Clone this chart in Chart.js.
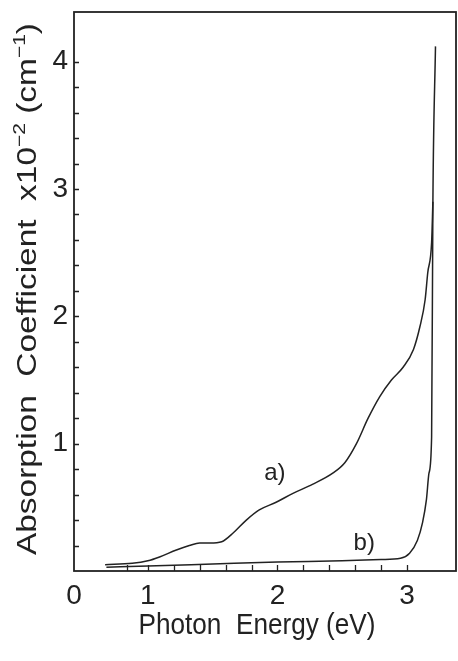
<!DOCTYPE html>
<html>
<head>
<meta charset="utf-8">
<script src="https://cdn.jsdelivr.net/npm/chart.js@4.4.0/dist/chart.umd.min.js"></script>
<style>
  html, body { margin: 0; padding: 0; background: #fff; }
  #wrap { width: 458px; height: 661px; }
</style>
</head>
<body>
<div id="wrap"><canvas id="chart" width="458" height="661"></canvas></div>
<script>
// Curve a) - photon energy (eV) vs absorption coefficient (x10^2 cm^-1)
const energyA = [0.67, 0.88, 1.0, 1.09, 1.22, 1.32, 1.40, 1.48, 1.57, 1.66, 1.76, 1.86, 1.99, 2.12,
                 2.27, 2.43, 2.52, 2.61, 2.70, 2.79, 2.88, 2.97, 3.05, 3.10, 3.14, 3.16, 3.19, 3.20];
const absorbA = [0.05, 0.06, 0.08, 0.11, 0.165, 0.20, 0.22, 0.22, 0.23, 0.30, 0.40, 0.48, 0.54, 0.61,
                 0.68, 0.77, 0.85, 1.00, 1.20, 1.37, 1.50, 1.60, 1.74, 1.92, 2.13, 2.34, 2.58, 2.90];

// Curve b)
const energyB = [0.68, 1.0, 1.5, 2.0, 2.5, 2.8, 2.95, 3.02, 3.08, 3.12, 3.15, 3.17, 3.19, 3.20, 3.22];
const absorbB = [0.03, 0.04, 0.055, 0.07, 0.08, 0.09, 0.10, 0.14, 0.24, 0.38, 0.56, 0.77, 1.05, 2.90, 4.12];

// Curve labels (text, energy, absorption)
const curveLabels = [['a)', 1.98, 0.77], ['b)', 2.67, 0.22]];

// Axis ranges and ticks
const xMin = 0.43, xMax = 3.386;
const yMin = 0, yMax = 4.39;
const xTickValues = [0.84, 1.0, 1.2, 1.4, 1.6, 1.8, 2.0, 2.2, 2.4, 2.6, 2.8, 3.0];
const xLabelValues = [xMin, 1, 2, 3];
const xLabelText = ['0', '1', '2', '3'];
const yTickValues = [0.2, 0.4, 0.6, 0.8, 1.0, 1.2, 1.4, 1.6, 1.8, 2.0, 2.2, 2.4, 2.6, 2.8, 3.0,
                     3.2, 3.4, 3.6, 3.8, 4.0];
const yLabelValues = [1, 2, 3, 4];

const xTitle = 'Photon  Energy (eV)';
const yTitleParts = [['Absorption  Coefficient  x10', false], ['\u22122', true], [' (cm', false], ['\u22121', true], [')', false]];

const ink = '#222';
const font = 'Liberation Sans, Arial, sans-serif';

const toPoints = (xs, ys) => xs.map((x, i) => ({ x: x, y: ys[i] }));
const near = (a, b) => Math.abs(a - b) < 1e-6;

// frame, inward ticks, titles and curve labels
const decorPlugin = {
    id: 'decor',
    afterDraw(chart) {
        const ctx = chart.ctx;
        const area = chart.chartArea;
        const xs = chart.scales.x, ys = chart.scales.y;
        ctx.save();
        ctx.strokeStyle = ink;
        ctx.fillStyle = ink;

        // inward tick marks
        ctx.lineWidth = 1.3;
        ctx.beginPath();
        xTickValues.forEach(v => {
            const px = Math.round(xs.getPixelForValue(v)) + 0.5;
            ctx.moveTo(px, area.bottom);
            ctx.lineTo(px, area.bottom - 6);
        });
        yTickValues.forEach(v => {
            const py = Math.round(ys.getPixelForValue(v)) + 0.5;
            ctx.moveTo(area.left, py);
            ctx.lineTo(area.left + 5, py);
        });
        ctx.stroke();

        // frame
        ctx.lineWidth = 1.8;
        ctx.strokeRect(area.left, area.top, area.right - area.left - 1, area.bottom - area.top);

        // curve labels
        ctx.font = '24px ' + font;
        ctx.textAlign = 'center';
        ctx.textBaseline = 'middle';
        curveLabels.forEach(([t, x, y]) => {
            ctx.fillText(t, xs.getPixelForValue(x), ys.getPixelForValue(y));
        });

        // x axis title, squeezed to the lettering width
        ctx.textAlign = 'left';
        ctx.textBaseline = 'alphabetic';
        ctx.font = '29px ' + font;
        const xw = ctx.measureText(xTitle).width;
        const xTarget = 237;
        ctx.save();
        ctx.translate(257 - xTarget / 2, 634);
        ctx.scale(xTarget / xw, 1);
        ctx.fillText(xTitle, 0, 0);
        ctx.restore();

        // y axis title with superscripts, stretched along the axis
        const big = '27px ' + font, small = '17px ' + font;
        let yw = 0;
        yTitleParts.forEach(([t, sup]) => {
            ctx.font = sup ? small : big;
            yw += ctx.measureText(t).width;
        });
        const yTarget = 532;
        ctx.save();
        ctx.translate(36, 289);
        ctx.rotate(-Math.PI / 2);
        ctx.scale(yTarget / yw, 1);
        let cx = -yw / 2;
        yTitleParts.forEach(([t, sup]) => {
            ctx.font = sup ? small : big;
            ctx.fillText(t, cx, sup ? -11 : 0);
            cx += ctx.measureText(t).width;
        });
        ctx.restore();

        ctx.restore();
    }
};

new Chart(document.getElementById('chart'), {
    type: 'line',
    data: {
        datasets: [{
            label: 'a)',
            data: toPoints(energyA, absorbA),
            borderColor: ink,
            borderWidth: 1.5,
            pointRadius: 0,
            fill: false,
            cubicInterpolationMode: 'monotone'
        }, {
            label: 'b)',
            data: toPoints(energyB, absorbB),
            borderColor: ink,
            borderWidth: 1.5,
            pointRadius: 0,
            fill: false,
            cubicInterpolationMode: 'monotone'
        }]
    },
    options: {
        responsive: false,
        animation: false,
        layout: { padding: { top: 12, right: 1, left: 0, bottom: 0 } },
        plugins: {
            legend: { display: false },
            tooltip: { enabled: false }
        },
        scales: {
            x: {
                type: 'linear',
                min: xMin,
                max: xMax,
                grid: { display: false, drawTicks: false },
                border: { display: false },
                afterFit: s => { s.height = 90; s.paddingLeft = 0; s.paddingRight = 0; },
                afterBuildTicks: s => {
                    s.ticks = xLabelValues.map(v => ({ value: v }));
                },
                ticks: {
                    autoSkip: false,
                    maxRotation: 0,
                    padding: 8,
                    color: ink,
                    font: { family: font, size: 28 },
                    callback: v => {
                        const i = xLabelValues.findIndex(l => near(l, v));
                        return i >= 0 ? xLabelText[i] : '';
                    }
                }
            },
            y: {
                type: 'linear',
                min: yMin,
                max: yMax,
                grid: { display: false, drawTicks: false },
                border: { display: false },
                afterFit: s => { s.width = 74; s.paddingTop = 0; s.paddingBottom = 0; },
                afterBuildTicks: s => {
                    s.ticks = yLabelValues.map(v => ({ value: v }));
                },
                ticks: {
                    autoSkip: false,
                    padding: 6,
                    color: ink,
                    font: { family: font, size: 28 },
                    callback: v => String(v)
                }
            }
        }
    },
    plugins: [decorPlugin]
});
</script>
</body>
</html>
